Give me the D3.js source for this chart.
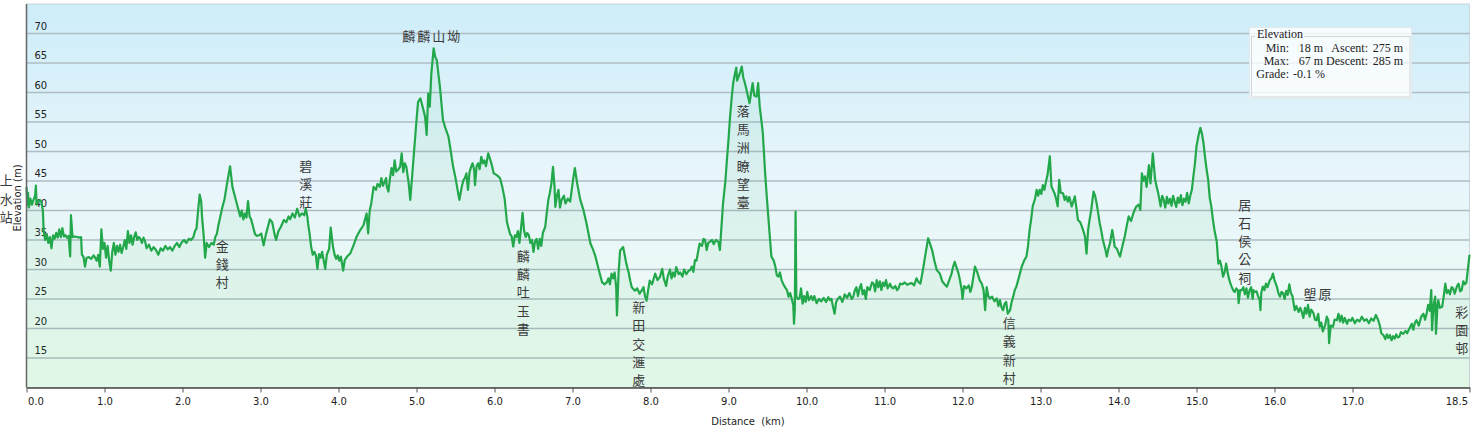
<!DOCTYPE html>
<html>
<head>
<meta charset="utf-8">
<script src="https://d3js.org/d3.v7.min.js"></script>
<style>
body{margin:0;background:#fff}
svg{display:block}
</style>
</head>
<body>
<script>
// elevation profile, [distance km, elevation m]
var profile = [
[0.00,44],[0.01,41],[0.02,43],[0.03,40.5],[0.05,42],[0.07,41],[0.09,41.8],[0.11,42.5],[0.12,44.2],[0.13,41],
[0.15,41.5],[0.17,41.8],[0.19,41.5],[0.21,40],[0.22,36.5],[0.24,35],[0.26,36],[0.28,34.5],[0.30,35.5],[0.32,33.6],
[0.34,35.8],[0.36,35.2],[0.38,36.2],[0.40,35.4],[0.42,36.8],[0.44,35.5],[0.46,37],[0.48,35.6],[0.50,35.8],[0.52,35.4],
[0.54,35.7],[0.56,32.2],[0.57,39.2],[0.59,35.5],[0.62,35.6],[0.65,35.5],[0.68,35.4],[0.70,35.5],[0.71,32.5],[0.73,32.2],
[0.75,30.5],[0.77,32],[0.80,32.1],[0.83,31.8],[0.86,32.4],[0.88,32],[0.90,31.5],[0.92,32.5],[0.94,30.5],[0.96,36.8],
[0.98,33.5],[1.00,34.5],[1.02,32],[1.04,34],[1.06,31.5],[1.08,29.8],[1.10,33],[1.12,34.5],[1.14,32.5],[1.16,34],
[1.18,33],[1.20,34.2],[1.22,32.8],[1.24,33.8],[1.26,35],[1.28,33.5],[1.30,36.5],[1.32,34.5],[1.34,35.8],[1.36,34.2],
[1.38,35.5],[1.40,36.3],[1.42,35],[1.44,35.5],[1.46,35.2],[1.48,34.5],[1.50,35.4],[1.52,34.8],[1.54,33.6],[1.57,34.2],
[1.60,33.2],[1.63,33.8],[1.66,33.3],[1.69,32.5],[1.72,33.6],[1.75,33.2],[1.78,34],[1.81,33.4],[1.84,33.8],[1.87,33.2],
[1.90,34],[1.93,34.5],[1.96,33.8],[1.99,34.6],[2.02,35],[2.05,34.5],[2.08,35.2],[2.11,35],[2.14,35.5],[2.16,36.5],
[2.18,37],[2.20,40],[2.22,42.7],[2.24,41.5],[2.25,39],[2.27,36],[2.29,32],[2.31,34.5],[2.34,33.8],[2.37,34.5],
[2.40,34.2],[2.42,35.5],[2.44,36],[2.46,37.5],[2.48,38.7],[2.51,40.5],[2.54,42],[2.57,44.5],[2.61,47.5],[2.64,44],
[2.68,42],[2.72,40],[2.74,39],[2.76,40],[2.78,38.5],[2.80,39.5],[2.82,38.8],[2.84,41.6],[2.86,39],[2.88,38.5],
[2.91,37],[2.93,36],[2.95,35.7],[2.98,35.8],[3.01,36.1],[3.04,34.1],[3.07,36],[3.10,37.5],[3.12,38.5],[3.15,38],
[3.18,36],[3.20,35],[3.23,36.5],[3.26,37.2],[3.30,38.4],[3.33,38],[3.36,39],[3.38,38.5],[3.41,39.5],[3.44,38.8],
[3.47,40.3],[3.50,39],[3.53,39.5],[3.56,39.2],[3.58,40.3],[3.60,39],[3.61,37.8],[3.63,36],[3.65,33.8],[3.67,32.5],
[3.69,33],[3.71,32.4],[3.73,30.1],[3.75,32.6],[3.77,32],[3.79,33],[3.81,31.5],[3.83,30.1],[3.85,32.5],[3.88,33.5],
[3.90,37.1],[3.93,33.8],[3.95,32.5],[3.97,31.8],[3.99,32.4],[4.01,31.5],[4.03,32.2],[4.06,29.8],[4.08,31.6],[4.11,32.2],
[4.15,32.7],[4.19,34],[4.23,35.5],[4.27,36.5],[4.32,37.5],[4.34,38.5],[4.36,39.5],[4.38,36.1],[4.40,40],[4.42,41.2],
[4.45,44],[4.48,43.5],[4.50,44.5],[4.53,44],[4.55,45.5],[4.57,44.2],[4.59,44.8],[4.61,45.5],[4.62,44],[4.64,43.2],
[4.66,45.5],[4.68,47.2],[4.70,46],[4.72,48.5],[4.74,46.6],[4.77,47],[4.79,47.4],[4.81,49.7],[4.83,46.5],[4.85,48],
[4.87,47.4],[4.90,44.6],[4.92,41.8],[4.96,48.5],[5.00,55.3],[5.02,58.4],[5.05,59],[5.07,58],[5.09,57],[5.11,55.9],
[5.13,52.8],[5.15,59.8],[5.17,57.6],[5.19,63.2],[5.22,67.5],[5.24,66],[5.26,65.5],[5.30,61],[5.34,55.3],[5.37,54],
[5.41,52.5],[5.44,50],[5.47,47.4],[5.50,45.5],[5.52,44],[5.55,41.8],[5.58,44],[5.60,45.1],[5.62,45.5],[5.64,46.3],
[5.66,43.5],[5.68,46.5],[5.70,47.4],[5.72,48],[5.74,46.8],[5.75,44.3],[5.77,47.5],[5.79,48],[5.81,47],[5.83,49.1],
[5.85,48],[5.87,48.5],[5.89,47.5],[5.92,49.7],[5.96,48],[5.99,46.3],[6.03,46],[6.07,45.5],[6.10,44],[6.13,42],
[6.16,38],[6.18,37],[6.20,36],[6.22,35.6],[6.24,33.9],[6.26,35.8],[6.28,35.5],[6.30,36.5],[6.32,34.5],[6.34,37],
[6.36,39.6],[6.38,36.5],[6.40,35.5],[6.42,36.2],[6.44,35.8],[6.46,34.5],[6.48,35],[6.50,33],[6.52,34.8],[6.54,35.2],
[6.56,33.5],[6.58,35.2],[6.60,34],[6.62,36.2],[6.65,37.2],[6.67,39.6],[6.69,41.8],[6.71,43],[6.73,44.6],[6.75,47.4],
[6.77,44],[6.78,40.6],[6.80,42.5],[6.82,43.5],[6.84,40.5],[6.86,41.8],[6.89,42.5],[6.91,41.2],[6.94,42],[6.97,41.5],
[6.99,43.5],[7.01,45.5],[7.03,47.2],[7.06,44.6],[7.10,41.8],[7.14,40.1],[7.18,37.8],[7.23,34.4],[7.26,33.5],[7.29,32.4],
[7.34,29.8],[7.38,27.8],[7.41,27.5],[7.44,27.8],[7.46,28.5],[7.48,27.5],[7.50,29.3],[7.52,28.5],[7.54,29.5],[7.56,27],
[7.57,22.2],[7.59,29.3],[7.61,33.2],[7.63,33.5],[7.65,33.8],[7.69,31],[7.72,29.5],[7.74,28.1],[7.76,27],[7.80,26.4],
[7.83,26.8],[7.86,25.9],[7.89,26.5],[7.91,27],[7.93,25.5],[7.95,24.7],[7.97,26.5],[7.99,28.1],[8.02,27.5],[8.06,29.3],
[8.09,28.2],[8.12,28.7],[8.15,30.1],[8.17,28.5],[8.20,27.2],[8.22,28.8],[8.25,30],[8.27,28.5],[8.29,29.5],[8.31,28.8],
[8.33,30.4],[8.36,29.2],[8.38,29.5],[8.41,28.8],[8.43,30],[8.46,29.2],[8.49,29.8],[8.51,29.9],[8.53,30.5],[8.55,29.6],
[8.57,31.6],[8.59,31.5],[8.61,33],[8.63,34.4],[8.66,34],[8.68,35.2],[8.70,35],[8.72,33.3],[8.74,34.5],[8.76,34.7],
[8.79,35],[8.81,34.3],[8.84,35],[8.87,34.7],[8.89,33.3],[8.91,37.3],[8.93,41.2],[8.96,45],[8.98,48.6],[9.00,52],
[9.02,55.9],[9.04,59],[9.06,61.6],[9.08,63],[9.10,64.2],[9.11,62],[9.13,62.7],[9.15,63.5],[9.17,64.4],[9.19,62.5],
[9.21,61.6],[9.23,60.5],[9.25,59.3],[9.27,58.2],[9.29,60],[9.31,61.6],[9.33,59.5],[9.36,59.3],[9.38,61.6],[9.40,57.6],
[9.42,55.5],[9.44,53.1],[9.47,46.3],[9.49,42.5],[9.51,39],[9.53,35.5],[9.55,32.2],[9.58,31.5],[9.60,30.5],[9.62,29],
[9.64,28.8],[9.66,29.5],[9.68,28.2],[9.70,27.6],[9.72,27.1],[9.75,26.5],[9.77,25.4],[9.79,26],[9.81,25.1],[9.83,24],
[9.84,20.8],[9.85,23.1],[9.86,39.8],[9.87,25.4],[9.89,25],[9.91,25.1],[9.93,26.8],[9.95,24.2],[9.97,25.5],[9.99,24.5],
[10.01,26.2],[10.03,24.8],[10.06,25.5],[10.08,24.8],[10.10,25.5],[10.13,24.3],[10.16,25],[10.19,24.6],[10.22,25.2],[10.25,24.5],
[10.28,25.3],[10.30,24.8],[10.32,25],[10.34,23.7],[10.36,22.5],[10.38,24.5],[10.40,25],[10.43,25.4],[10.46,24.5],[10.49,25.8],
[10.52,25.2],[10.55,26],[10.58,25],[10.60,25.4],[10.62,26.5],[10.64,27],[10.66,25.5],[10.68,26.8],[10.70,27.5],[10.72,25.8],
[10.74,26.5],[10.76,25],[10.78,27],[10.81,26.5],[10.84,27.8],[10.86,27.6],[10.88,26.3],[10.90,28.2],[10.92,27],[10.94,28],
[10.96,26.5],[10.98,27.8],[11.00,27.2],[11.02,28.2],[11.04,26.8],[11.07,27.6],[11.09,27],[11.11,26.8],[11.14,27.2],[11.16,26.5],
[11.18,26.8],[11.20,27.6],[11.23,27.5],[11.26,27.8],[11.29,27.4],[11.32,27.6],[11.35,27.7],[11.38,27.3],[11.41,28.5],[11.44,27.8],
[11.46,27.6],[11.48,29],[11.50,30.5],[11.53,33],[11.56,35.3],[11.58,34.5],[11.61,33.3],[11.64,31.5],[11.67,29.9],[11.71,29.3],
[11.74,28],[11.77,27.5],[11.80,27.1],[11.83,28.2],[11.86,29.3],[11.88,30.5],[11.90,31.3],[11.92,30.5],[11.95,29.3],[11.97,28],
[11.99,26.5],[12.00,25],[12.02,27.2],[12.05,26.8],[12.08,27.3],[12.10,26.2],[12.12,27.1],[12.14,28.8],[12.16,30.5],[12.19,29.5],
[12.22,28.2],[12.25,27.5],[12.27,26.5],[12.29,23.1],[12.31,27],[12.33,25.5],[12.35,25.1],[12.38,25.4],[12.41,24.6],[12.44,25.1],
[12.46,23.8],[12.48,24.8],[12.50,23.6],[12.52,23.1],[12.54,24.2],[12.56,24.5],[12.58,22.5],[12.61,23.1],[12.63,24.5],[12.65,25.4],
[12.67,26.5],[12.69,27.1],[12.72,28.5],[12.76,30.5],[12.79,31.5],[12.82,32.2],[12.84,34],[12.86,36.7],[12.88,38.5],[12.90,40.7],
[12.93,42],[12.95,43.5],[12.97,42.5],[12.99,43.5],[13.01,42.8],[13.03,44.3],[13.05,43.5],[13.07,44.9],[13.09,46],[13.12,49.2],
[13.14,44.1],[13.16,43.5],[13.18,42.9],[13.20,42],[13.22,40.7],[13.24,45.2],[13.26,43],[13.29,42.9],[13.31,41.8],[13.33,42.4],
[13.35,41.5],[13.37,42.3],[13.40,40.7],[13.42,41.5],[13.44,42.4],[13.46,40.5],[13.48,38.4],[13.51,38],[13.53,37.3],[13.55,36.5],
[13.57,35.6],[13.59,32.7],[13.61,36.7],[13.63,38.5],[13.65,40.1],[13.68,43.2],[13.70,42.5],[13.72,41.2],[13.74,39.5],[13.76,37.8],
[13.78,36.5],[13.80,35],[13.83,33.5],[13.85,32.2],[13.87,33.5],[13.89,34.4],[13.92,36.7],[13.94,35],[13.95,33.9],[13.98,33.5],
[14.00,32.8],[14.02,32.2],[14.05,34],[14.08,35.6],[14.10,37],[14.13,39],[14.16,38.2],[14.19,39.5],[14.21,40.2],[14.23,40.7],
[14.26,41],[14.28,40.1],[14.30,46.3],[14.32,45],[14.34,45.8],[14.36,44],[14.39,47.7],[14.41,44.6],[14.44,49.7],[14.47,45.2],
[14.49,44],[14.51,42.9],[14.54,40.7],[14.56,42.5],[14.58,41.8],[14.60,40.5],[14.62,42.3],[14.64,41.2],[14.66,42],[14.68,40.8],
[14.70,42.5],[14.72,41.5],[14.74,40.6],[14.76,42.2],[14.78,41.3],[14.80,42.6],[14.82,40.9],[14.84,42],[14.86,41.5],[14.88,43],
[14.90,41.2],[14.92,42.5],[14.94,43.5],[14.96,45.8],[14.98,48],[15.00,50.9],[15.03,53],[15.05,54],[15.07,53],[15.09,51.4],
[15.11,49],[15.13,46.9],[15.15,45.2],[15.17,42.1],[15.19,40.7],[15.21,38.5],[15.23,36.7],[15.26,34.7],[15.28,31],[15.30,31.5],
[15.32,30.5],[15.34,28.8],[15.36,29.5],[15.38,31],[15.40,29.5],[15.41,28.8],[15.43,27.8],[15.45,27.1],[15.47,26.5],[15.49,26.2],
[15.51,26.8],[15.53,26.5],[15.54,24.3],[15.56,26.5],[15.58,26.5],[15.60,27],[15.62,25.8],[15.64,26.8],[15.66,25.2],[15.68,26.5],
[15.70,27],[15.72,25],[15.73,26.5],[15.75,26.2],[15.77,26.3],[15.79,25.5],[15.81,24.8],[15.82,23.1],[15.83,26],[15.85,27.1],
[15.87,26.5],[15.89,27.6],[15.91,27],[15.94,28.2],[15.96,28.5],[15.98,29.3],[16.00,28.2],[16.03,27.1],[16.05,26],[16.07,25.4],
[16.09,26.2],[16.11,26],[16.13,25],[16.15,26.4],[16.17,25.7],[16.19,27.5],[16.21,26],[16.23,25.5],[16.26,23.1],[16.28,23.8],
[16.31,22.8],[16.33,23.5],[16.35,22.8],[16.37,21.8],[16.39,23.5],[16.41,22.5],[16.43,24],[16.45,22],[16.47,23.2],[16.50,22.6],
[16.52,21.5],[16.54,21.4],[16.56,22.5],[16.58,20.3],[16.60,21],[16.62,19.5],[16.65,20.6],[16.67,22],[16.69,21.4],[16.70,17.5],
[16.72,20.5],[16.75,20.3],[16.77,21.5],[16.80,21.4],[16.82,22.5],[16.84,21.2],[16.86,22.2],[16.88,21],[16.90,21.8],[16.93,20.8],
[16.95,21.5],[16.98,21.3],[17.00,21.8],[17.03,20.9],[17.06,21.5],[17.09,21.2],[17.12,22],[17.15,21.3],[17.18,21.6],[17.21,20.9],
[17.24,21.7],[17.27,21.3],[17.30,22.3],[17.33,21.4],[17.35,20.5],[17.37,19.2],[17.40,18.8],[17.42,18.2],[17.44,19],[17.46,18.4],
[17.48,18.9],[17.50,18],[17.52,18.7],[17.54,18.3],[17.56,19],[17.58,18.5],[17.60,18.6],[17.62,19.4],[17.65,19.1],[17.68,19.6],
[17.70,19.2],[17.73,20],[17.76,20.8],[17.78,19.8],[17.80,21],[17.82,21.4],[17.85,20.5],[17.88,22],[17.91,22.5],[17.93,21.5],
[17.95,22.5],[17.97,24],[17.99,23],[18.01,26.5],[18.02,19.7],[18.04,24],[18.06,25.4],[18.07,19.1],[18.09,24],[18.10,24.8],
[18.12,23.5],[18.15,23.7],[18.17,25.5],[18.19,27.6],[18.21,26],[18.23,26.5],[18.25,25.8],[18.27,27],[18.29,26.8],[18.31,25.9],
[18.34,27.2],[18.36,27.6],[18.38,26.3],[18.40,26.5],[18.42,28],[18.44,27.5],[18.46,27.8],[18.50,32.5]
];

var yTicks = [15, 20, 25, 30, 35, 40, 45, 50, 55, 60, 65, 70];
var xTicks = [0, 1, 2, 3, 4, 5, 6, 7, 8, 9, 10, 11, 12, 13, 14, 15, 16, 17, 18.5];

// place names: [name, km, elevation at first character, vertical?]
var places = [
  ["上水站", -0.26, 45.2, true],
  ["金錢村", 2.51, 34.1, true],
  ["碧溪莊", 3.58, 47.7, true],
  ["麟麟山坳", 5.19, 69.6, false],
  ["麟麟吐玉書", 6.37, 32.4, true],
  ["新田交滙處", 7.85, 23.7, true],
  ["落馬洲瞭望臺", 9.19, 57.0, true],
  ["信義新村", 12.6, 21.0, true],
  ["居石侯公祠", 15.62, 41.1, true],
  ["塱原", 16.55, 25.9, false],
  ["彩園邨", 18.4, 22.9, true]
];

var statMin = 18, statMax = 67, statAscent = 275, statDescent = 285, statGrade = "-0.1";

var W = 1476, H = 434;
var svg = d3.select("body").append("svg").attr("width", W).attr("height", H);

var x = d3.scaleLinear().domain([0, 18.5]).range([26.5, 1469.5]);
var y = d3.scaleLinear().domain([10, 75]).range([387.5, 4]);

var defs = svg.append("defs");
var bg = defs.append("linearGradient").attr("id", "bg").attr("x1", 0).attr("y1", 0).attr("x2", 0).attr("y2", 1);
bg.append("stop").attr("offset", "0%").attr("stop-color", "#cdedf9");
bg.append("stop").attr("offset", "45%").attr("stop-color", "#e8f5fb");
bg.append("stop").attr("offset", "100%").attr("stop-color", "#effcf2");

var x0 = x.range()[0], x1 = x.range()[1], yTop = y(75), yBot = y(10);

svg.append("rect")
  .attr("x", x0).attr("y", yTop)
  .attr("width", x1 - x0).attr("height", yBot - yTop)
  .attr("fill", "url(#bg)")
  .attr("stroke", "#c9d6dc").attr("stroke-width", 1);

// grid
svg.append("g").selectAll("line").data(yTicks).enter().append("line")
  .attr("x1", x0).attr("x2", x1)
  .attr("y1", function(d){return y(d)}).attr("y2", function(d){return y(d)})
  .attr("stroke", "#aebcc4").attr("stroke-width", 1.4);

svg.append("g").selectAll("text").data(yTicks).enter().append("text")
  .attr("x", x0 + 8).attr("y", function(d){return y(d) - 4})
  .attr("font-family", "DejaVu Sans, Verdana, sans-serif")
  .attr("font-size", 10).attr("fill", "#222")
  .text(function(d){return d});

// profile
var area = d3.area().x(function(d){return x(d[0])}).y0(yBot).y1(function(d){return y(d[1])});
var line = d3.line().x(function(d){return x(d[0])}).y(function(d){return y(d[1])});

svg.append("path").datum(profile).attr("d", area)
  .attr("fill", "#2fb35a").attr("fill-opacity", 0.07);
svg.append("path").datum(profile).attr("d", line)
  .attr("fill", "none").attr("stroke", "#22a84a").attr("stroke-width", 2.2)
  .attr("stroke-linejoin", "round");

// axes
svg.append("line").attr("x1", x0).attr("x2", x0).attr("y1", yTop).attr("y2", yBot)
  .attr("stroke", "#666").attr("stroke-width", 1.5);

var xAxis = svg.append("g").attr("transform", "translate(0," + yBot + ")")
  .call(d3.axisBottom(x).tickValues(xTicks).tickFormat(d3.format(".1f"))
    .tickSize(5).tickSizeOuter(0).tickPadding(5));
xAxis.select(".domain").attr("stroke", "#444").attr("stroke-width", 1.5);
xAxis.selectAll(".tick line").attr("stroke", "#555");
xAxis.selectAll("text").attr("font-family", "DejaVu Sans, Verdana, sans-serif")
  .attr("font-size", 10).attr("fill", "#222");
xAxis.selectAll(".tick").filter(function(d){return d === 0}).select("text")
  .attr("text-anchor", "start").attr("dx", 1);
xAxis.selectAll(".tick").filter(function(d){return d === 18.5}).select("text")
  .attr("text-anchor", "end").attr("dx", -2);

svg.append("text").attr("x", 748).attr("y", 425).attr("text-anchor", "middle")
  .attr("font-family", "DejaVu Sans, Verdana, sans-serif").attr("font-size", 10).attr("fill", "#222")
  .attr("xml:space", "preserve")
  .text("Distance  (km)");

svg.append("text").attr("transform", "translate(21,198) rotate(-90)").attr("text-anchor", "middle")
  .attr("font-family", "DejaVu Sans, Verdana, sans-serif").attr("font-size", 10).attr("fill", "#222")
  .text("Elevation (m)");

// place labels
var cjk = "Noto Sans CJK TC, Noto Sans CJK SC, sans-serif";
var pl = svg.append("g").attr("font-family", cjk).attr("font-size", 13).attr("fill", "#3a3a3a");
places.forEach(function(p) {
  var chars = Array.from(p[0]);
  var cx = x(p[1]), cy = y(p[2]);
  chars.forEach(function(c, i) {
    pl.append("text")
      .attr("x", p[3] ? cx : cx + (i - (chars.length - 1) / 2) * 15)
      .attr("y", p[3] ? cy + i * 18.3 : cy)
      .attr("text-anchor", "middle").attr("dominant-baseline", "central")
      .text(c);
  });
});

// stats box
var lg = svg.append("g").attr("font-family", "Liberation Serif, Times New Roman, serif")
  .attr("font-size", 12).attr("fill", "#222");
lg.append("rect").attr("x", 1249.5).attr("y", 27.5).attr("width", 162).attr("height", 71)
  .attr("fill", "#ffffff").attr("fill-opacity", 0.8).attr("stroke", "#e4eaec");
lg.append("path")
  .attr("d", "M1255,36.5 H1251.5 V97 H1410 V36.5 H1304")
  .attr("fill", "none").attr("stroke", "#cfd6d9");
lg.append("text").attr("x", 1257).attr("y", 37.5).text("Elevation");

function row(yy, items) {
  items.forEach(function(it) {
    lg.append("text").attr("x", it[0]).attr("y", yy).attr("text-anchor", it[2]).text(it[1]);
  });
}
row(52, [[1289, "Min:", "end"], [1323, statMin + " m", "end"], [1368, "Ascent:", "end"], [1403, statAscent + " m", "end"]]);
row(65, [[1289, "Max:", "end"], [1323, statMax + " m", "end"], [1368, "Descent:", "end"], [1403, statDescent + " m", "end"]]);
row(78, [[1289, "Grade:", "end"], [1293, statGrade + " %", "start"]]);
</script>
</body>
</html>
